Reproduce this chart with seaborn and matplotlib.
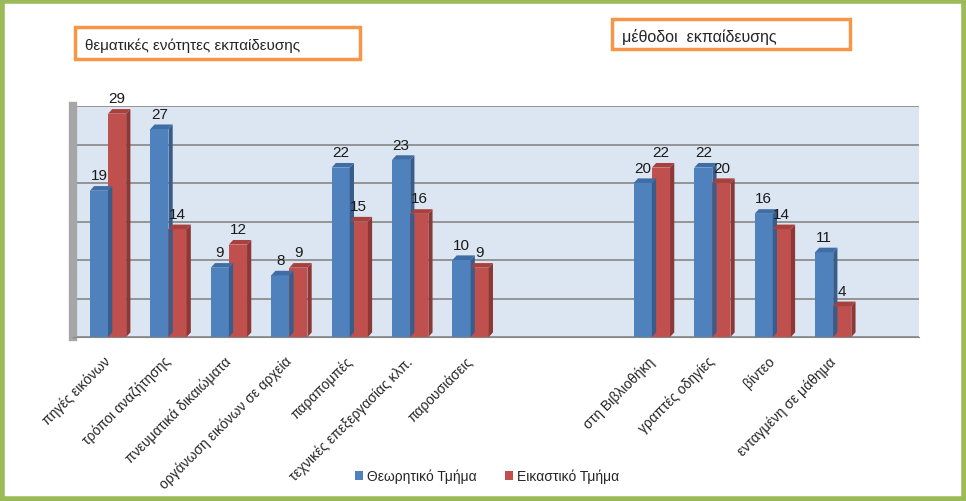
import numpy as np
import pandas as pd
import seaborn as sns
import matplotlib.pyplot as plt
from matplotlib.patches import Polygon, Rectangle

categories = ["πηγές εικόνων", "τρόποι αναζήτησης", "πνευματικά δικαιώματα",
              "οργάνωση εικόνων σε αρχεία", "παραπομπές", "τεχνικές επεξεργασίας κλπ.",
              "παρουσιάσεις", " ", "  ",
              "στη Βιβλιοθήκη", "γραπτές οδηγίες", "βίντεο", "ενταγμένη σε μάθημα", "   "]
shown = ["πηγές εικόνων", "τρόποι αναζήτησης", "πνευματικά δικαιώματα",
         "οργάνωση εικόνων σε αρχεία", "παραπομπές", "τεχνικές επεξεργασίας κλπ.",
         "παρουσιάσεις", "στη Βιβλιοθήκη", "γραπτές οδηγίες", "βίντεο", "ενταγμένη σε μάθημα"]
theoretical = [19, 27, 9, 8, 22, 23, 10, 20, 22, 16, 11]
fine_arts = [29, 14, 12, 9, 15, 16, 9, 22, 20, 14, 4]
series = ["Θεωρητικό Τμήμα", "Εικαστικό Τμήμα"]

df = pd.DataFrame({
    "cat": shown * 2,
    "value": theoretical + fine_arts,
    "series": [series[0]] * len(shown) + [series[1]] * len(shown),
})

sns.set_style("white")
plt.rcParams["font.family"] = ["Liberation Sans", "DejaVu Sans"]

W, H = 966, 502
fig = plt.figure(figsize=(W / 100, H / 100), dpi=100)
ax = fig.add_axes([73 / W, 1 - 338 / H, (919 - 73) / W, (338 - 107) / H])
ax.set_facecolor("#DCE6F2")

blue, red = "#4F81BD", "#C0504D"
palette = {series[0]: blue, series[1]: red}
sns.barplot(data=df, x="cat", y="value", hue="series", order=categories,
            hue_order=series, palette=palette, width=0.6, saturation=1,
            linewidth=0, ax=ax, zorder=3)

# fake 3D: side and top faces for every bar, bars pushed a bit right like the depth offset
side_col = {blue: "#385D8A", red: "#8C3836"}
top_col = {blue: "#3F6EA6", red: "#A8413E"}
dx, dy = 0.07, 0.6
for cont, col in zip(ax.containers, [blue, red]):
    for p in cont:
        h = p.get_height()
        if not np.isfinite(h) or h == 0:
            continue
        p.set_x(p.get_x() + 0.08)
        x0, w = p.get_x(), p.get_width()
        ax.add_patch(Polygon([[x0 + w, 0], [x0 + w + dx, dy], [x0 + w + dx, h + dy], [x0 + w, h]],
                             closed=True, fc=side_col[col], ec="none", zorder=3))
        ax.add_patch(Polygon([[x0, h], [x0 + dx, h + dy], [x0 + w + dx, h + dy], [x0 + w, h]],
                             closed=True, fc=top_col[col], ec="none", zorder=3))

for c in ax.containers:
    ax.bar_label(c, padding=6, fontsize=11, color="#1a1a1a")

ax.set_ylim(0, 30)
ax.set_xlim(-0.5, len(categories) - 0.5)
ax.set_yticks(range(0, 31, 5))
ax.set_yticklabels([])
ax.tick_params(axis="y", length=0)
ax.grid(axis="y", color="#868686", linewidth=1.2, zorder=0)
ax.set_axisbelow(True)
ax.set_xlabel("")
ax.set_ylabel("")

ax.set_xticks(range(len(categories)))
ax.set_xticklabels(categories, rotation=45, ha="right", rotation_mode="anchor", fontsize=10)
ax.set_xticks(np.arange(-0.5, len(categories), 1), minor=True)
ax.tick_params(axis="x", which="major", length=0, pad=12)
ax.tick_params(axis="x", which="minor", length=5, color="#868686", width=1)

for s in ["top", "right"]:
    ax.spines[s].set_visible(False)
ax.spines["bottom"].set_color("#868686")
ax.spines["left"].set_color("#A6A6A6")
ax.spines["left"].set_linewidth(6)

ax.legend(loc="center", bbox_to_anchor=(487 / W, 1 - 477 / H), bbox_transform=fig.transFigure,
          ncol=2, frameon=False, fontsize=10, handlelength=0.6, handleheight=0.6,
          columnspacing=2.0, handletextpad=0.3)

# title boxes
fig.patches.append(Rectangle((75 / W, 1 - 60 / H), 285 / W, 32 / H, transform=fig.transFigure,
                             fill=False, ec="#F79646", lw=2.5))
fig.text(85 / W, 1 - 46 / H, "θεματικές ενότητες εκπαίδευσης", fontsize=11, va="center")
fig.patches.append(Rectangle((612 / W, 1 - 50 / H), 238 / W, 30 / H, transform=fig.transFigure,
                             fill=False, ec="#F79646", lw=2.5))
fig.text(622 / W, 1 - 37 / H, "μέθοδοι  εκπαίδευσης", fontsize=11.5, va="center")

# green outer frame
fig.patches.append(Rectangle((0.002, 0.004), 0.996, 0.992, transform=fig.transFigure,
                             fill=False, ec="#9BBB59", lw=4))

fig.savefig("out.png", dpi=100)
